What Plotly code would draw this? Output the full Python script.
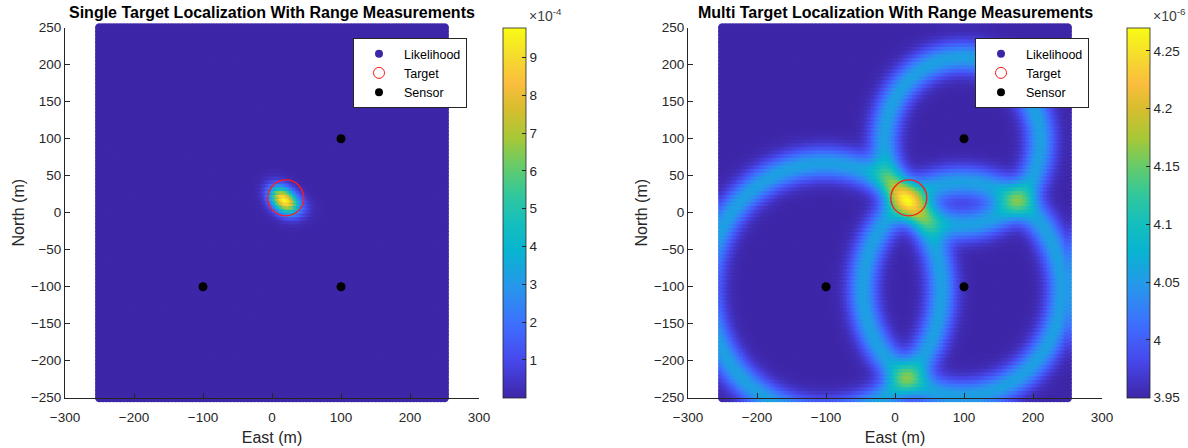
import numpy as np
import plotly.graph_objects as go

# Sensor positions (m)
SENSOR_EAST = [-100, 100, 100]
SENSOR_NORTH = [-100, -100, 100]

# True target position (m)
TARGET_EAST = [20]
TARGET_NORTH = [20]

# Range reported by each sensor (m) and its noise standard deviation
MEASURED_RANGE = [169.7, 144.2, 113.1]
RANGE_SIGMA = 15.0

# Evaluation grid (m)
GRID_LIMIT = 250
GRID_STEP = 5

# Multi-target likelihood: uniform clutter floor plus one ring per measurement
CLUTTER_DENSITY = 3.95e-6
RING_WEIGHT = 0.1067e-6

# Axis ticks
X_TICKS = [-300, -200, -100, 0, 100, 200, 300]
Y_TICKS = [-250, -200, -150, -100, -50, 0, 50, 100, 150, 200, 250]
SINGLE_CBAR_TICKS = [1, 2, 3, 4, 5, 6, 7, 8, 9]            # x 1e-4
MULTI_CBAR_TICKS = [3.95, 4, 4.05, 4.1, 4.15, 4.2, 4.25]    # x 1e-6

# Parula-like colour map
PARULA = [
    [0.00, "rgb(62,38,168)"],
    [0.10, "rgb(71,71,235)"],
    [0.20, "rgb(62,111,255)"],
    [0.30, "rgb(39,150,235)"],
    [0.40, "rgb(8,181,208)"],
    [0.47, "rgb(20,190,190)"],
    [0.55, "rgb(51,199,156)"],
    [0.62, "rgb(97,203,110)"],
    [0.70, "rgb(165,200,56)"],
    [0.78, "rgb(214,190,46)"],
    [0.85, "rgb(250,189,61)"],
    [0.92, "rgb(245,218,46)"],
    [1.00, "rgb(249,251,21)"],
]

TEXT = "#262626"
FONT = "Liberation Sans, Arial, Helvetica, sans-serif"

# ---- likelihood fields -------------------------------------------------
g = np.arange(-GRID_LIMIT, GRID_LIMIT + GRID_STEP, GRID_STEP)
E, N = np.meshgrid(g, g)
rings = []
for se, sn, r in zip(SENSOR_EAST, SENSOR_NORTH, MEASURED_RANGE):
    d = np.hypot(E - se, N - sn)
    rings.append(np.exp(-0.5 * ((d - r) / RANGE_SIGMA) ** 2))
rings = np.array(rings)

single = np.prod(rings, axis=0)
single = single / (single.sum() * GRID_STEP ** 2)
multi = CLUTTER_DENSITY + RING_WEIGHT * rings.sum(axis=0)

# ---- layout geometry (pixels -> paper fractions) -----------------------
W, H = 1188, 448
AX_TOP, AX_BOT = 27.7, 397.7
LEFT_X = (65, 479)
RIGHT_X = (688, 1102)
CBAR_LEFT = [503, 1127]


def px_x(p):
    return p / W


def px_y(p):
    return 1 - p / H


fig = go.Figure()

panels = [
    ("x", "y", single, SINGLE_CBAR_TICKS, 1e-4, "-4", LEFT_X, CBAR_LEFT[0],
     "Single Target Localization With Range Measurements", "legend"),
    ("x2", "y2", multi, MULTI_CBAR_TICKS, 1e-6, "-6", RIGHT_X, CBAR_LEFT[1],
     "Multi Target Localization With Range Measurements", "legend2"),
]

annotations = []
for xa, ya, field, cticks, scale, expo, xdom, cbx, title, leg in panels:
    fig.add_trace(go.Scatter(
        x=E.ravel(), y=N.ravel(), xaxis=xa, yaxis=ya, mode="markers",
        cliponaxis=False, showlegend=False, hoverinfo="skip",
        marker=dict(
            color=field.ravel(), colorscale=PARULA,
            cmin=float(field.min()), cmax=float(field.max()),
            size=9, line=dict(width=0), opacity=1,
            colorbar=dict(
                x=px_x(cbx), xanchor="left", xpad=0,
                y=px_y((AX_TOP + AX_BOT) / 2), yanchor="middle", ypad=0,
                len=AX_BOT - AX_TOP, lenmode="pixels",
                thickness=23, thicknessmode="pixels",
                outlinecolor=TEXT, outlinewidth=0.8,
                tickvals=[t * scale for t in cticks],
                ticktext=[f"{t:g}" for t in cticks],
                ticks="inside", ticklen=4, tickcolor=TEXT,
                tickfont=dict(family=FONT, size=13.5, color=TEXT),
            ),
        ),
    ))
    # Sensors
    fig.add_trace(go.Scatter(
        x=SENSOR_EAST, y=SENSOR_NORTH, xaxis=xa, yaxis=ya, mode="markers",
        marker=dict(color="black", size=9), showlegend=False, hoverinfo="skip",
    ))
    # Target
    fig.add_trace(go.Scatter(
        x=TARGET_EAST, y=TARGET_NORTH, xaxis=xa, yaxis=ya, mode="markers",
        marker=dict(symbol="circle-open", color="#ff1a1a", size=36,
                    line=dict(width=1.3, color="#ff1a1a")),
        showlegend=False, hoverinfo="skip",
    ))
    # Legend entries
    fig.add_trace(go.Scatter(
        x=[None], y=[None], xaxis=xa, yaxis=ya, mode="markers", name="Likelihood",
        legend=leg, marker=dict(color="rgb(62,38,168)", size=8),
    ))
    fig.add_trace(go.Scatter(
        x=[None], y=[None], xaxis=xa, yaxis=ya, mode="markers", name="Target",
        legend=leg, marker=dict(symbol="circle-open", color="#ff1a1a", size=11,
                                line=dict(width=1, color="#ff1a1a")),
    ))
    fig.add_trace(go.Scatter(
        x=[None], y=[None], xaxis=xa, yaxis=ya, mode="markers", name="Sensor",
        legend=leg, marker=dict(color="black", size=8),
    ))

    annotations.append(dict(
        text=f"<b>{title}</b>", xref="paper", yref="paper",
        x=px_x((xdom[0] + xdom[1]) / 2), y=px_y(12), xanchor="center",
        yanchor="middle", showarrow=False,
        font=dict(family=FONT, size=16, color="black"),
    ))
    annotations.append(dict(
        text=f"\u00d710<sup>{expo}</sup>", xref="paper", yref="paper",
        x=px_x(cbx + 24), y=px_y(15), xanchor="left", yanchor="middle",
        showarrow=False, font=dict(family=FONT, size=14, color="#404040"),
    ))

axis_common = dict(
    showline=True, linecolor=TEXT, linewidth=1, mirror=False,
    ticks="inside", ticklen=5, tickcolor=TEXT, tickwidth=1,
    showgrid=False, zeroline=False, automargin=False,
    tickfont=dict(family=FONT, size=13.5, color=TEXT),
)
title_font = dict(family=FONT, size=16, color=TEXT)
x_extra = dict(ticklabelstandoff=7)

legend_common = dict(
    bgcolor="white", bordercolor=TEXT, borderwidth=1,
    font=dict(family=FONT, size=12.5, color="black"),
    xanchor="left", yanchor="top", itemwidth=40, tracegroupgap=0,
)

fig.update_layout(
    width=W, height=H,
    margin=dict(l=0, r=0, t=0, b=0, autoexpand=False),
    paper_bgcolor="white", plot_bgcolor="white",
    font=dict(family=FONT, color=TEXT),
    annotations=annotations,
    xaxis=dict(domain=[px_x(LEFT_X[0]), px_x(LEFT_X[1])], range=[-300, 300],
               tickvals=X_TICKS, anchor="y",
               title=dict(text="East (m)", font=title_font, standoff=7),
               **axis_common, **x_extra),
    yaxis=dict(domain=[px_y(AX_BOT), px_y(AX_TOP)], range=[-250, 250],
               tickvals=Y_TICKS, anchor="x",
               title=dict(text="North (m)", font=title_font, standoff=2),
               **axis_common),
    xaxis2=dict(domain=[px_x(RIGHT_X[0]), px_x(RIGHT_X[1])], range=[-300, 300],
                tickvals=X_TICKS, anchor="y2",
                title=dict(text="East (m)", font=title_font, standoff=7),
                **axis_common, **x_extra),
    yaxis2=dict(domain=[px_y(AX_BOT), px_y(AX_TOP)], range=[-250, 250],
                tickvals=Y_TICKS, anchor="x2",
                title=dict(text="North (m)", font=title_font, standoff=2),
                **axis_common),
    legend=dict(x=px_x(353), y=px_y(38), **legend_common),
    legend2=dict(x=px_x(975), y=px_y(38), **legend_common),
)

fig.write_html("out.html")
